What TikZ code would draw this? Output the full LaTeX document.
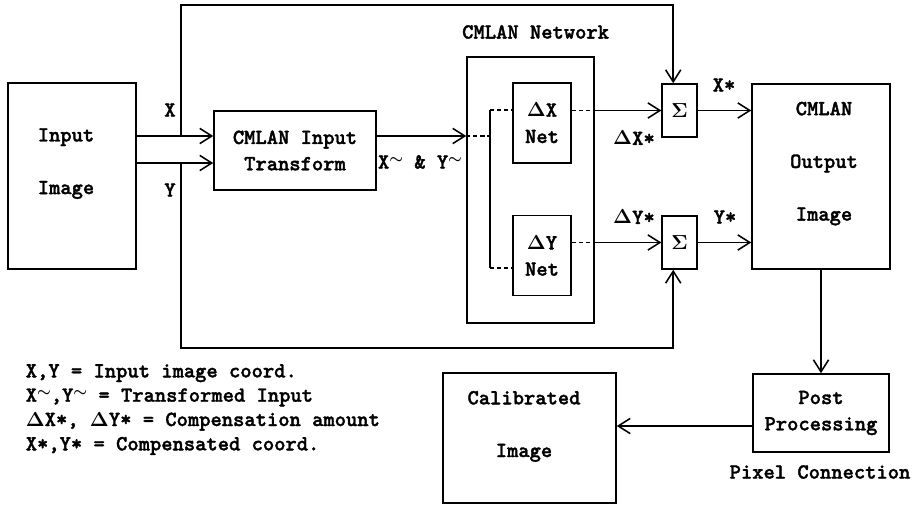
\documentclass[tikz,border=0pt]{standalone}
\usepackage[no-math]{fontspec}
\usepackage{amsmath,amssymb,bm}
\newfontfamily\cmlanfont{lmmonolt10-bold.otf}[FakeBold=1.6]
\usetikzlibrary{arrows.meta}

\tikzset{
  blk/.style={draw, line width=1.1pt, inner sep=0pt, align=center},
  txt/.style={align=center, inner sep=0pt},
  netlink/.style={dash pattern=on 3pt off 2pt, line width=0.8pt},
}
\newcommand{\dlt}{$\bm{\Delta}$}
\newcommand{\tld}{\raisebox{0.55ex}{\smash{$\bm{\scriptstyle\sim}$}}}

\begin{document}
\begin{tikzpicture}[line width=1.1pt, >={Straight Barb[length=3mm,width=3.8mm]},
  font=\cmlanfont\fontsize{15.3}{18.7}\selectfont]
\useasboundingbox (0,0) rectangle (23.1,-12.65);

% Input image and transform
\node[blk, minimum width=3.2cm, minimum height=4.65cm] (inimg) at (1.8,-4.4) {};
\node[txt] (inimgtxt) at (1.65,-4.09) {Input\\[0.66cm]Image};
\node[blk, minimum width=4.05cm, minimum height=1.975cm] (tf) at (7.375,-3.7625) {CMLAN Input\\Transform};

% CMLAN network with the two nets
\node[blk, minimum width=3.175cm, minimum height=6.65cm] (net) at (13.2625,-4.75) {};
\node[txt] (nettxt) at (13.39,-0.8) {CMLAN Network};
\node[blk, minimum width=1.45cm, minimum height=2cm] (dx) at (13.55,-3.075) {\dlt X\\Net};
\node[blk, minimum width=1.45cm, minimum height=2cm] (dy) at (13.55,-6.39) {\dlt Y\\Net};

% Adders
\node[blk, minimum width=0.875cm, minimum height=1.325cm] (s1) at (16.99,-2.7625) {$\bm{\Sigma}$};
\node[blk, minimum width=0.875cm, minimum height=1.325cm] (s2) at (16.99,-6.0625) {$\bm{\Sigma}$};

% Output image
\node[blk, minimum width=3.45cm, minimum height=4.625cm] (out) at (20.525,-4.4125) {};
\node[txt] (outtxt) at (20.6,-4.09) {CMLAN\\[0.66cm]Output\\[0.66cm]Image};

% Post processing and calibrated image
\node[blk, minimum width=3.4cm, minimum height=1.95cm] (post) at (20.525,-10.325) {Post\\Processing};
\node[txt] (pixtxt) at (20.5,-11.8) {Pixel Connection};
\node[blk, minimum width=4.325cm, minimum height=3.25cm] (cal) at (13.2375,-10.95) {};
\node[txt] (caltxt) at (13.1,-10.66) {Calibrated\\[0.66cm]Image};

% Legend
\node[txt, align=left, anchor=west] (legend) at (0.625,-10.24)
  {X,Y = Input image coord.\\[-1.4pt]
   X\tld,Y\tld{} = Transformed Input\\[-1.4pt]
   \dlt X*, \dlt Y* = Compensation amount\\[-1.4pt]
   X*,Y* = Compensated coord.};

% Signal labels
\node[txt] (xlbl) at (4.25,-2.75) {X};
\node[txt] (ylbl) at (4.25,-4.75) {Y};
\node[txt] (tflbl) at (10.5,-4.05) {X\tld{} \& Y\tld};
\node[txt] (dxlbl) at (15.85,-3.45) {\dlt X*};
\node[txt] (dylbl) at (15.85,-5.425) {\dlt Y*};
\node[txt] (xslbl) at (18.1,-2.125) {X*};
\node[txt] (yslbl) at (18.125,-5.425) {Y*};

% X, Y into the transform
\coordinate (xin) at (tf.west |- 0,-3.4);
\coordinate (yin) at (tf.west |- 0,-4.075);
\draw[->] (inimg.east |- xin) -- (xin);
\draw[->] (inimg.east |- yin) -- (yin);

% X, Y taps round to the adders
\coordinate (ltop) at (4.525,-0.12);
\coordinate (lbot) at (4.525,-8.7);
\draw[->] (ltop |- xin) -- (ltop) -| ([xshift=-1.6mm]s1.north);
\draw[->] (lbot |- yin) -- (lbot) -| ([xshift=-1.6mm]s2.south);

% Transform into network
\draw[->] (tf.east |- xin) -- (net.west |- xin);
\coordinate (splt) at (12.25,-3.4);
\draw[netlink] (net.west |- xin) -- (splt);
\draw[line width=0.8pt] (splt |- 0,-2.75) -- (splt |- 0,-6.7);
\draw[netlink] (splt |- 0,-2.75) -- (dx.west |- 0,-2.75);
\draw[netlink] (splt |- 0,-6.7) -- (dy.west |- 0,-6.7);

% Net outputs to adders
\draw[netlink] (dx.east |- s1.west) -- (net.east |- s1.west);
\draw[->] (net.east |- s1.west) -- (s1.west);
\draw[netlink] (dy.east |- s2.west) -- (net.east |- s2.west);
\draw[->] (net.east |- s2.west) -- (s2.west);

% Adders to output, then post processing
\draw[->] (s1.east) -- (out.west |- s1.east);
\draw[->] (s2.east) -- (out.west |- s2.east);
\draw[->] (out.south) -- (post.north);
\coordinate (pp) at ([yshift=-3.25mm]post.west);
\draw[->] (pp) -- (cal.east |- pp);

\end{tikzpicture}
\end{document}
